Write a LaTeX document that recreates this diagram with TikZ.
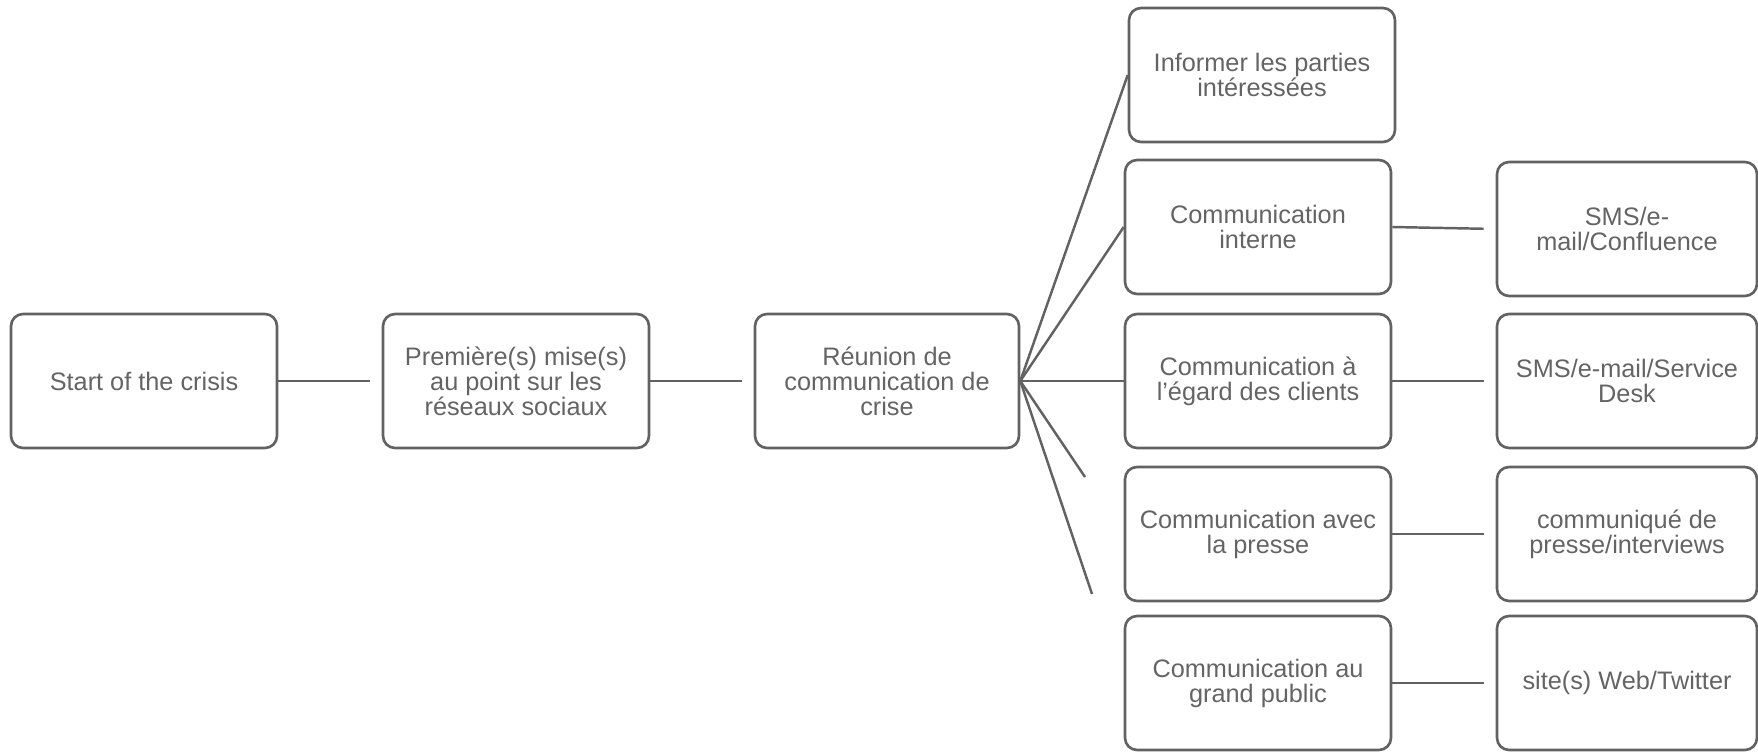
\documentclass[tikz,border=0pt]{standalone}
\usepackage{fontspec}
\setmainfont{Liberation Sans}
\definecolor{lineGray}{RGB}{98,98,98}
\definecolor{textGray}{RGB}{100,100,100}
\tikzset{crisis box/.style={draw=lineGray, line width=1.5pt,
        rounded corners=0.24cm, minimum width=5.32cm, minimum height=2.68cm,
        align=center, text=textGray, inner sep=2pt,
        font=\fontsize{14.4}{14.2}\selectfont},
    media box/.style={crisis box, minimum width=5.2cm},
    link/.style={draw=lineGray, line width=1.4pt, shorten >=0.24cm},
    }

\begin{document}
\begin{tikzpicture}[x=0.02cm,y=-0.02cm]
	\useasboundingbox (0,0) rectangle (1758,751);
	% main chain
	\node[crisis box] (start) at (144,381) {Start of the crisis};
	\node[crisis box] (premMise) at (516,381) {Première(s) mise(s)\\au point sur les\\réseaux sociaux};
	\node[crisis box, minimum width=5.28cm] (reunion) at (887,381) {Réunion de\\communication de\\crise};
	% channels
	\node[crisis box] (informer) at (1262,75) {Informer les parties\\intéressées};
	\node[crisis box] (comInterne) at (1258,227) {Communication\\interne};
	\node[crisis box] (comClients) at (1258,381) {Communication à\\l’égard des clients};
	\node[crisis box] (comPresse) at (1258,534) {Communication avec\\la presse};
	\node[crisis box] (comPublic) at (1258,683) {Communication au\\grand public};
	% media
	\node[media box] (smsConf) at (1627,229) {SMS/e-\\mail/Confluence};
	\node[media box] (smsDesk) at (1627,381) {SMS/e-mail/Service\\Desk};
	\node[media box] (presseItw) at (1627,534) {communiqué de\\presse/interviews};
	\node[media box] (siteWeb) at (1627,683) {site(s) Web/Twitter};
	\coordinate (presseEnd) at (1085,477);
	\coordinate (publicEnd) at (1092,594);

	\draw[link] (start.east) -- (premMise.west);
	\draw[link] (premMise.east) -- (reunion.west);
	\draw[link, shorten >=0pt] (reunion.east) -- (informer.west);
	\draw[link, shorten >=0pt] (reunion.east) -- (comInterne.west);
	\draw[link, shorten >=0pt] (reunion.east) -- (comClients.west);
	\draw[link, shorten >=0pt] (reunion.east) -- (presseEnd);
	\draw[link, shorten >=0pt] (reunion.east) -- (publicEnd);
	\draw[link] (comInterne.east) -- (smsConf.west);
	\draw[link] (comClients.east) -- (smsDesk.west);
	\draw[link] (comPresse.east) -- (presseItw.west);
	\draw[link] (comPublic.east) -- (siteWeb.west);
\end{tikzpicture}
\end{document}
